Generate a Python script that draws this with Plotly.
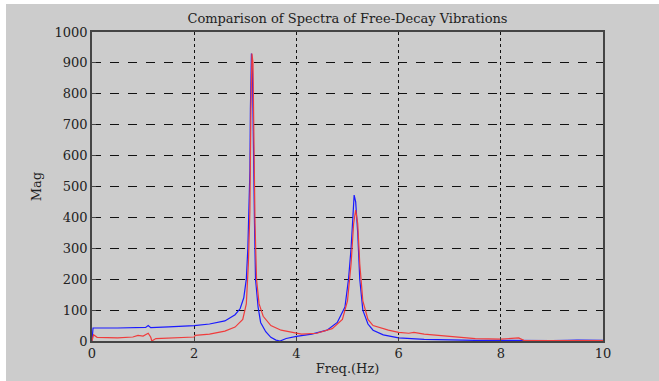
import plotly.graph_objects as go

# Blue spectrum (Hz, magnitude)
blue_freq = [0, 0.02, 0.5, 0.9, 1.0, 1.05, 1.1, 1.15, 1.5, 2.0, 2.3, 2.6, 2.8, 2.9, 2.97,
             3.02, 3.05, 3.07, 3.09, 3.10, 3.12, 3.14, 3.16, 3.18, 3.2, 3.25, 3.3, 3.4, 3.5,
             3.6, 3.68, 3.8, 4.0, 4.3, 4.6, 4.8, 4.95, 5.02, 5.07, 5.1, 5.13, 5.16, 5.2, 5.24,
             5.3, 5.4, 5.5, 5.7, 6.0, 6.5, 7.0, 7.5, 8.0, 8.5, 9.0, 9.3, 9.5, 10]
blue_mag = [0, 42, 42, 44, 46, 44, 50, 43, 46, 50, 55, 65, 85, 105, 140,
            200, 300, 420, 550, 750, 930, 870, 530, 380, 200, 110, 60, 30, 12,
            3, 0, 8, 15, 22, 35, 60, 110, 200, 300, 400, 472, 450, 350, 200,
            100, 55, 35, 20, 10, 5, 3, 2, 2, 1, 1, 2, 3, 2]

# Red spectrum
red_freq = [0, 0.03, 0.1, 0.5, 0.8, 0.9, 1.0, 1.05, 1.1, 1.15, 1.17, 1.25, 1.5, 1.8, 2.0,
            2.02, 2.3, 2.6, 2.8, 2.95, 3.02, 3.06, 3.09, 3.11, 3.13, 3.15, 3.17, 3.19, 3.22,
            3.27, 3.35, 3.5, 3.7, 3.9, 4.1, 4.4, 4.7, 4.9, 5.0, 5.07, 5.12, 5.16, 5.2, 5.24,
            5.3, 5.4, 5.5, 5.8, 6.0, 6.2, 6.3, 6.5, 7.0, 7.2, 7.5, 8.0, 8.2, 8.35, 8.45,
            8.6, 9.0, 10]
red_mag = [0, 20, 12, 10, 13, 18, 16, 20, 25, 12, 0, 8, 10, 12, 13,
           18, 22, 32, 45, 70, 120, 250, 420, 750, 930, 900, 600, 380, 200,
           120, 80, 50, 35, 28, 22, 25, 40, 70, 130, 250, 380, 424, 380, 250,
           130, 70, 50, 35, 28, 25, 28, 22, 15, 12, 8, 6, 9, 10, 2,
           1, 1, 1]

x_ticks = [0, 2, 4, 6, 8, 10]
y_ticks = [0, 100, 200, 300, 400, 500, 600, 700, 800, 900, 1000]

FONT = "DejaVu Serif"
FS = 13

fig = go.Figure()
fig.add_trace(go.Scatter(x=blue_freq, y=blue_mag, mode="lines",
                         line=dict(color="#1a1aff", width=1.2), showlegend=False))
fig.add_trace(go.Scatter(x=red_freq, y=red_mag, mode="lines",
                         line=dict(color="#f03c3c", width=1.2), showlegend=False))

fig.add_shape(type="rect", xref="paper", yref="paper",
              x0=-86/511, x1=(659-92)/511, y0=-40/309, y1=(341-4)/309,
              fillcolor="#cccccc", line=dict(width=0), layer="below")

fig.update_layout(
    width=659, height=381,
    margin=dict(l=92, r=56, t=32, b=40, autoexpand=False),
    paper_bgcolor="white",
    plot_bgcolor="white",
    font=dict(family=FONT, size=FS, color="#222222"),
    title=dict(text="Comparison of Spectra of Free-Decay Vibrations",
               x=(347.5) / 659, xanchor="center", y=1 - 18 / 381, yanchor="middle",
               font=dict(family=FONT, size=FS, color="#222222")),
    xaxis=dict(range=[0, 10], tickvals=x_ticks, ticktext=[str(v) for v in x_ticks],
               automargin=False,
               showgrid=True, gridcolor="#111111", griddash="dot", gridwidth=1,
               showline=True, linecolor="#444444", linewidth=1.5, mirror=True,
               ticks="inside", ticklen=4, tickcolor="#444444", zeroline=False,
               title=dict(text="Freq.(Hz)", standoff=4, font=dict(family=FONT, size=FS)),
               tickfont=dict(family=FONT, size=FS)),
    yaxis=dict(range=[0, 1000], tickvals=y_ticks, ticktext=[str(v) for v in y_ticks],
               automargin=False,
               showgrid=True, gridcolor="#111111", griddash="dash", gridwidth=1,
               showline=True, linecolor="#444444", linewidth=1.5, mirror=True,
               ticks="inside", ticklen=4, tickcolor="#444444", zeroline=False,
               title=dict(text="Mag", standoff=10, font=dict(family=FONT, size=FS)),
               tickfont=dict(family=FONT, size=FS)),
)

fig.write_html("out.html")
